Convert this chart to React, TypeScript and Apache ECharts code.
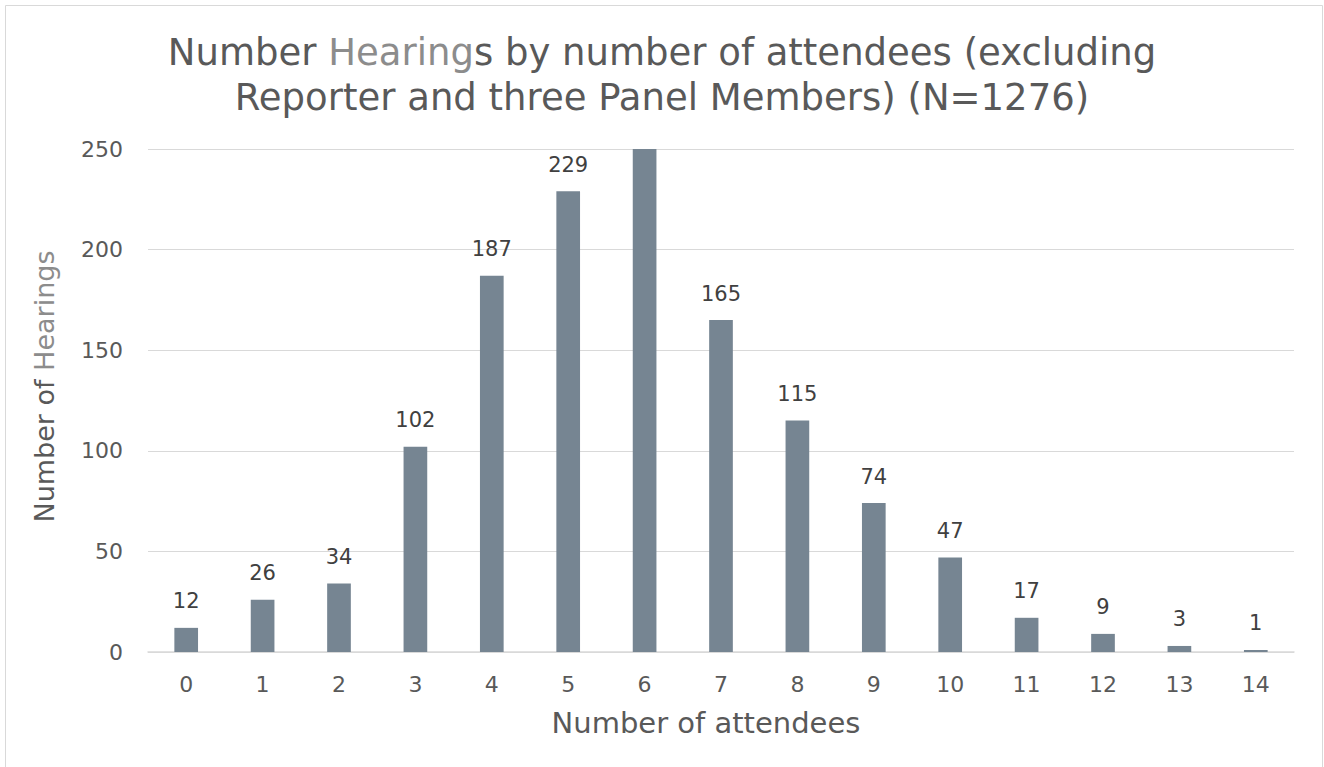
import React, { useEffect, useRef } from "react";
import * as echarts from "echarts";

const categories = ["0", "1", "2", "3", "4", "5", "6", "7", "8", "9", "10", "11", "12", "13", "14"];
const hearings = [12, 26, 34, 102, 187, 229, 255, 165, 115, 74, 47, 17, 9, 3, 1];
const yMax = 250;

export default function App() {
  const ref = useRef<HTMLDivElement>(null);
  useEffect(() => {
    const chart = echarts.init(ref.current!, null, { renderer: "svg" });
    const font = "DejaVu Sans";
    chart.setOption({
      animation: false,
      backgroundColor: "#ffffff",
      textStyle: { fontFamily: font },
      graphic: [
        {
          type: "rect",
          shape: { x: 5.5, y: 5.5, width: 1317, height: 780 },
          style: { fill: "none", stroke: "#d9d9d9", lineWidth: 1 },
          silent: true,
        },
      ],
      title: {
        left: "center",
        top: 25,
        text: "{a|Number }{b|Hearing}{a|s by number of attendees (excluding}\n{a|Reporter and three Panel Members) (N=1276)}",
        textStyle: {
          fontWeight: "normal",
          rich: {
            a: { fontSize: 37, color: "#595959", fontFamily: font, fontWeight: "normal", lineHeight: 45 },
            b: { fontSize: 37, color: "#8c8c8c", fontFamily: font, fontWeight: "normal", lineHeight: 45 },
          },
        },
      },
      grid: { left: 148, right: 30, top: 149, bottom: 115, containLabel: false },
      xAxis: {
        type: "category",
        data: categories,
        name: "Number of attendees",
        nameLocation: "middle",
        nameGap: 56,
        nameTextStyle: { fontSize: 29, color: "#595959", fontFamily: font, padding: [0, 30, 0, 0] },
        axisLine: { lineStyle: { color: "#d9d9d9", width: 1.5 } },
        axisTick: { show: false },
        axisLabel: { fontSize: 22, color: "#595959", margin: 21, fontFamily: font },
      },
      yAxis: {
        type: "value",
        min: 0,
        max: yMax,
        interval: 50,
        name: "{a|Number of }{b|Hearings}",
        nameLocation: "middle",
        nameGap: 90,
        nameTextStyle: {
          padding: [0, 0, 0, 28],
          rich: {
            a: { fontSize: 27, color: "#595959", fontFamily: font },
            b: { fontSize: 27, color: "#8c8c8c", fontFamily: font },
          },
        },
        axisLine: { show: false },
        axisTick: { show: false },
        axisLabel: { fontSize: 22, color: "#595959", margin: 25, fontFamily: font },
        splitLine: { lineStyle: { color: "#d9d9d9", width: 1 } },
      },
      series: [
        {
          type: "bar",
          data: hearings.map((v) => (v > yMax ? { value: v, label: { show: false } } : v)),
          barWidth: "31%",
          clip: true,
          itemStyle: { color: "#768592" },
          label: {
            show: true,
            position: "top",
            distance: 16,
            fontSize: 21,
            color: "#404040",
            fontFamily: font,
          },
        },
      ],
    });
    return () => chart.dispose();
  }, []);
  return (
    <div
      ref={ref}
      style={{ position: "absolute", left: 0, top: 0, width: 1324, height: 767 }}
    />
  );
}
